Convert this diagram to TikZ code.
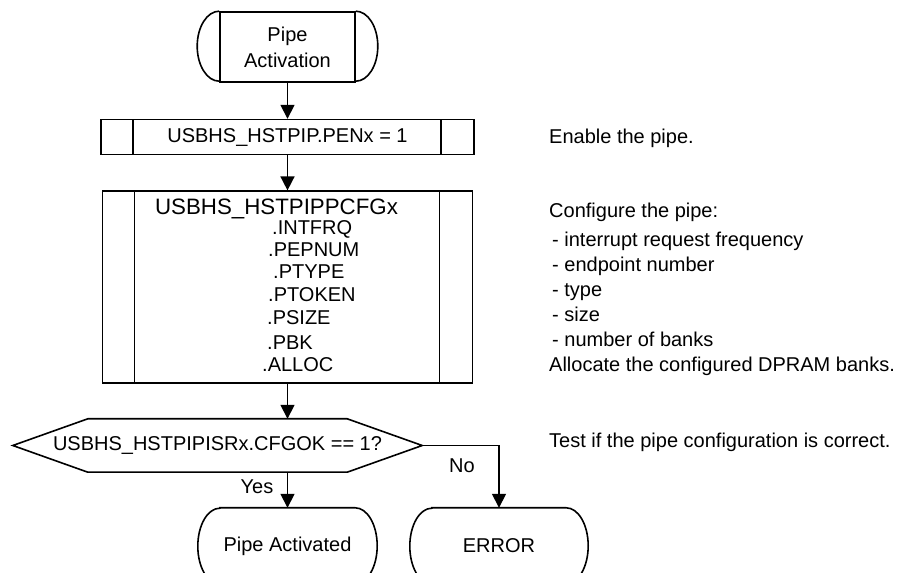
\documentclass[tikz,border=0pt]{standalone}
\usepackage{fontspec}
\setmainfont{Liberation Sans}
\usetikzlibrary{arrows.meta,positioning}

\tikzset{
  flow/.style={line width=1.6pt, -{Triangle[length=14pt,width=14pt]}},
  box/.style={draw, line width=1.6pt, rectangle, inner sep=0pt},
  subproc/.style={box, path picture={
      \draw[line width=1.6pt] ([xshift=32pt]path picture bounding box.north west) -- ([xshift=32pt]path picture bounding box.south west);
      \draw[line width=1.6pt] ([xshift=-33pt]path picture bounding box.north east) -- ([xshift=-33pt]path picture bounding box.south east);}},
  term/.style={inner sep=0pt, minimum width=135pt, minimum height=76pt, align=center},
  note/.style={anchor=base west, inner sep=0pt, align=left},
}

\begin{document}
\begin{tikzpicture}[x=1pt, y=1pt, font=\fontsize{20}{25}\selectfont]
  \useasboundingbox (0,0) rectangle (897,573);
  \clip (0,0) rectangle (897,573);

  % flow chart
  \node[box, term, minimum height=70pt, font=\fontsize{20}{26}\selectfont] (start) at (287.5,526) {Pipe\\Activation};
  \draw[line width=1.6pt] (start.north west) arc[start angle=90, end angle=270, x radius=22, y radius=35];
  \draw[line width=1.6pt] (start.north east) arc[start angle=90, end angle=-90, x radius=22, y radius=35];

  \node[subproc, minimum width=373pt, minimum height=35pt, below=36pt of start] (pen) {USBHS\_HSTPIP.PENx = 1};
  \node[subproc, minimum width=370pt, minimum height=192pt, below=35pt of pen] (cfg) {};
  \node[font=\fontsize{22.3}{22}\selectfont, inner sep=0pt, anchor=base] (cfghead) at (276.5,358) {USBHS\_HSTPIPPCFGx};
  \foreach \f/\x/\y in {INTFRQ/272/344, PEPNUM/268/323, PTYPE/273/301, PTOKEN/268/278,
                        PSIZE/267/255, PBK/267/230, ALLOC/262/208}
    \node[anchor=west, inner sep=0pt] (f-\f) at (\x,\y) {.\f};

  \node[inner sep=0pt, minimum width=409pt, minimum height=53pt] (test) at (217.5,127.5) {USBHS\_HSTPIPISRx.CFGOK == 1?};
  \draw[line width=1.6pt] (test.west) -- ([xshift=75pt]test.north west) -- ([xshift=-75pt]test.north east)
    -- (test.east) -- ([xshift=-75pt]test.south east) -- ([xshift=75pt]test.south west) -- cycle;

  \node[term] (ok) at (287.5,27) {Pipe Activated};
  \node[term, minimum width=134pt] (err) at (499,27) {ERROR};
  \foreach \n in {ok,err}
    \draw[line width=1.6pt] (\n.north west) -- (\n.north east)
      arc[start angle=90, end angle=-90, x radius=22, y radius=38] -- (\n.south west)
      arc[start angle=270, end angle=90, x radius=22, y radius=38] -- cycle;

  \draw[flow] (start) -- (pen);
  \draw[flow] (pen) -- (cfg);
  \draw[flow] (cfg.south) -- (cfg.south |- test.north);
  \draw[flow] (ok.north |- test.south) -- (ok.north);
  \draw[flow] (test.east) -| (err.north);
  \node (yes) at (257,86) {Yes};
  \node (no) at (462,107) {No};

  % comments on the right
  \node[note] (n1) at (549,429.7) {Enable the pipe.};
  \node[note] (n2) at (549,201) {Configure the pipe:\\[4pt]
    \hspace*{3pt}- interrupt request frequency\\
    \hspace*{3pt}- endpoint number\\
    \hspace*{3pt}- type\\
    \hspace*{3pt}- size\\
    \hspace*{3pt}- number of banks\\
    Allocate the configured DPRAM banks.};
  \node[note] (n3) at (549,125) {Test if the pipe configuration is correct.};
\end{tikzpicture}
\end{document}
